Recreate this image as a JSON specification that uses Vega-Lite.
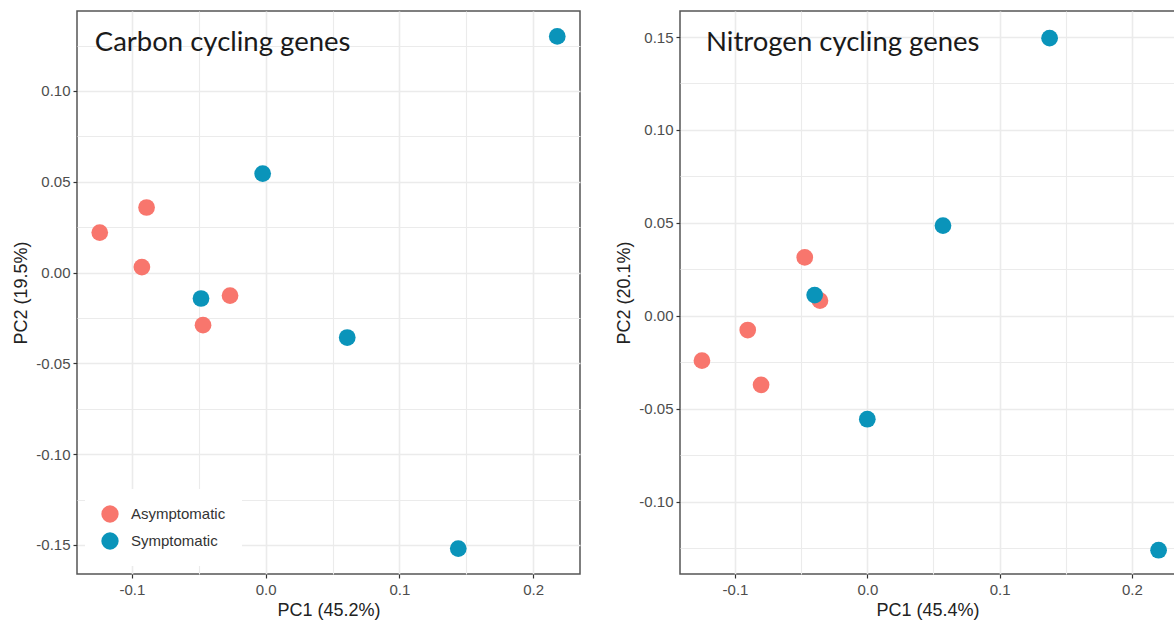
{
  "$schema": "https://vega.github.io/schema/vega-lite/v6.json",
  "background": "white",
  "padding": {"left": 12, "top": 10, "right": 0, "bottom": 0},
  "config": {
    "view": {"stroke": "#555555", "strokeWidth": 1.5},
    "axis": {
      "labelFont": "Liberation Sans", "labelFontSize": 15, "labelColor": "#4D4D4D",
      "titleFont": "Liberation Sans", "titleFontSize": 18, "titleFontWeight": "normal", "titleColor": "#222222",
      "gridColor": "#EBEBEB", "domain": false, "tickColor": "#333333", "tickSize": 4, "tickWidth": 1.2,
      "labelPadding": 3, "titlePadding": 5
    },
    "concat": {"spacing": 34}
  },
  "datasets": {
    "carbon": [
      {"PC1": -0.124, "PC2": 0.022, "group": "Asymptomatic"},
      {"PC1": -0.089, "PC2": 0.0358, "group": "Asymptomatic"},
      {"PC1": -0.0925, "PC2": 0.003, "group": "Asymptomatic"},
      {"PC1": -0.0266, "PC2": -0.0127, "group": "Asymptomatic"},
      {"PC1": -0.0468, "PC2": -0.029, "group": "Asymptomatic"},
      {"PC1": -0.0483, "PC2": -0.0143, "group": "Symptomatic"},
      {"PC1": -0.0022, "PC2": 0.0545, "group": "Symptomatic"},
      {"PC1": 0.061, "PC2": -0.0358, "group": "Symptomatic"},
      {"PC1": 0.144, "PC2": -0.152, "group": "Symptomatic"},
      {"PC1": 0.218, "PC2": 0.130, "group": "Symptomatic"}
    ],
    "nitrogen": [
      {"PC1": -0.125, "PC2": -0.0242, "group": "Asymptomatic"},
      {"PC1": -0.0904, "PC2": -0.0077, "group": "Asymptomatic"},
      {"PC1": -0.0803, "PC2": -0.0372, "group": "Asymptomatic"},
      {"PC1": -0.0473, "PC2": 0.0314, "group": "Asymptomatic"},
      {"PC1": -0.0358, "PC2": 0.0081, "group": "Asymptomatic"},
      {"PC1": -0.0398, "PC2": 0.0111, "group": "Symptomatic"},
      {"PC1": 0.0, "PC2": -0.0557, "group": "Symptomatic"},
      {"PC1": 0.0572, "PC2": 0.0485, "group": "Symptomatic"},
      {"PC1": 0.1378, "PC2": 0.1494, "group": "Symptomatic"},
      {"PC1": 0.2202, "PC2": -0.1262, "group": "Symptomatic"}
    ]
  },
  "resolve": {"scale": {"x": "independent", "y": "independent"}, "legend": {"color": "independent"}},
  "hconcat": [
    {
      "width": 503, "height": 563,
      "layer": [
        {
          "data": {"name": "carbon"},
          "mark": {"type": "circle", "size": 280, "opacity": 1},
          "encoding": {
            "x": {
              "field": "PC1", "type": "quantitative", "title": "PC1 (45.2%)",
              "scale": {"domain": [-0.141, 0.235], "nice": false, "zero": false},
              "axis": {
                "values": [-0.1, -0.05, 0, 0.05, 0.1, 0.15, 0.2],
                "labelExpr": "abs(datum.value*10 - round(datum.value*10)) < 0.001 ? replace(format(datum.value, '.1f'), '−', '-') : ''",
                "tickOpacity": {"condition": {"test": "abs(datum.value*10 - round(datum.value*10)) < 0.001", "value": 1}, "value": 0},
                "gridWidth": {"condition": {"test": "abs(datum.value*10 - round(datum.value*10)) < 0.001", "value": 1.6}, "value": 1.1},
                "labelPadding": 4, "titlePadding": 4
              }
            },
            "y": {
              "field": "PC2", "type": "quantitative", "title": "PC2 (19.5%)",
              "scale": {"domain": [-0.166, 0.144], "nice": false, "zero": false},
              "axis": {
                "values": [-0.15, -0.125, -0.1, -0.075, -0.05, -0.025, 0, 0.025, 0.05, 0.075, 0.1, 0.125],
                "labelExpr": "abs(datum.value*20 - round(datum.value*20)) < 0.001 ? replace(format(datum.value, '.2f'), '−', '-') : ''",
                "tickOpacity": {"condition": {"test": "abs(datum.value*20 - round(datum.value*20)) < 0.001", "value": 1}, "value": 0},
                "gridWidth": {"condition": {"test": "abs(datum.value*20 - round(datum.value*20)) < 0.001", "value": 1.6}, "value": 1.1}
              }
            },
            "color": {
              "field": "group", "type": "nominal",
              "scale": {"domain": ["Asymptomatic", "Symptomatic"], "range": ["#F8766D", "#0A94BA"]},
              "legend": {
                "title": null, "orient": "bottom-left", "offset": 8, "padding": 16,
                "fillColor": "white", "symbolType": "circle", "symbolSize": 300, "symbolStrokeWidth": 0,
                "symbolOpacity": 1, "labelFont": "Liberation Sans", "labelFontSize": 15, "labelColor": "#333333",
                "labelOffset": 12, "rowPadding": 9
              }
            }
          }
        },
        {
          "data": {"values": [{"label": "Carbon cycling genes"}]},
          "mark": {"type": "text", "font": "Lato", "fontSize": 27.5, "align": "left", "baseline": "alphabetic", "color": "#1A1A1A"},
          "encoding": {
            "text": {"field": "label"},
            "x": {"datum": -0.1277},
            "y": {"datum": 0.1222}
          }
        }
      ]
    },
    {
      "width": 495, "height": 563,
      "layer": [
        {
          "data": {"name": "nitrogen"},
          "mark": {"type": "circle", "size": 280, "opacity": 1},
          "encoding": {
            "x": {
              "field": "PC1", "type": "quantitative", "title": "PC1 (45.4%)",
              "scale": {"domain": [-0.1416, 0.2326], "nice": false, "zero": false},
              "axis": {
                "values": [-0.1, -0.05, 0, 0.05, 0.1, 0.15, 0.2],
                "labelExpr": "abs(datum.value*10 - round(datum.value*10)) < 0.001 ? replace(format(datum.value, '.1f'), '−', '-') : ''",
                "tickOpacity": {"condition": {"test": "abs(datum.value*10 - round(datum.value*10)) < 0.001", "value": 1}, "value": 0},
                "gridWidth": {"condition": {"test": "abs(datum.value*10 - round(datum.value*10)) < 0.001", "value": 1.6}, "value": 1.1},
                "labelPadding": 4, "titlePadding": 4
              }
            },
            "y": {
              "field": "PC2", "type": "quantitative", "title": "PC2 (20.1%)",
              "scale": {"domain": [-0.139, 0.164], "nice": false, "zero": false},
              "axis": {
                "values": [-0.125, -0.1, -0.075, -0.05, -0.025, 0, 0.025, 0.05, 0.075, 0.1, 0.125, 0.15],
                "labelExpr": "abs(datum.value*20 - round(datum.value*20)) < 0.001 ? replace(format(datum.value, '.2f'), '−', '-') : ''",
                "tickOpacity": {"condition": {"test": "abs(datum.value*20 - round(datum.value*20)) < 0.001", "value": 1}, "value": 0},
                "gridWidth": {"condition": {"test": "abs(datum.value*20 - round(datum.value*20)) < 0.001", "value": 1.6}, "value": 1.1}
              }
            },
            "color": {
              "field": "group", "type": "nominal",
              "scale": {"domain": ["Asymptomatic", "Symptomatic"], "range": ["#F8766D", "#0A94BA"]},
              "legend": null
            }
          }
        },
        {
          "data": {"values": [{"label": "Nitrogen cycling genes"}]},
          "mark": {"type": "text", "font": "Lato", "fontSize": 27.5, "align": "left", "baseline": "alphabetic", "color": "#1A1A1A"},
          "encoding": {
            "text": {"field": "label"},
            "x": {"datum": -0.1219},
            "y": {"datum": 0.1424}
          }
        }
      ]
    }
  ]
}
